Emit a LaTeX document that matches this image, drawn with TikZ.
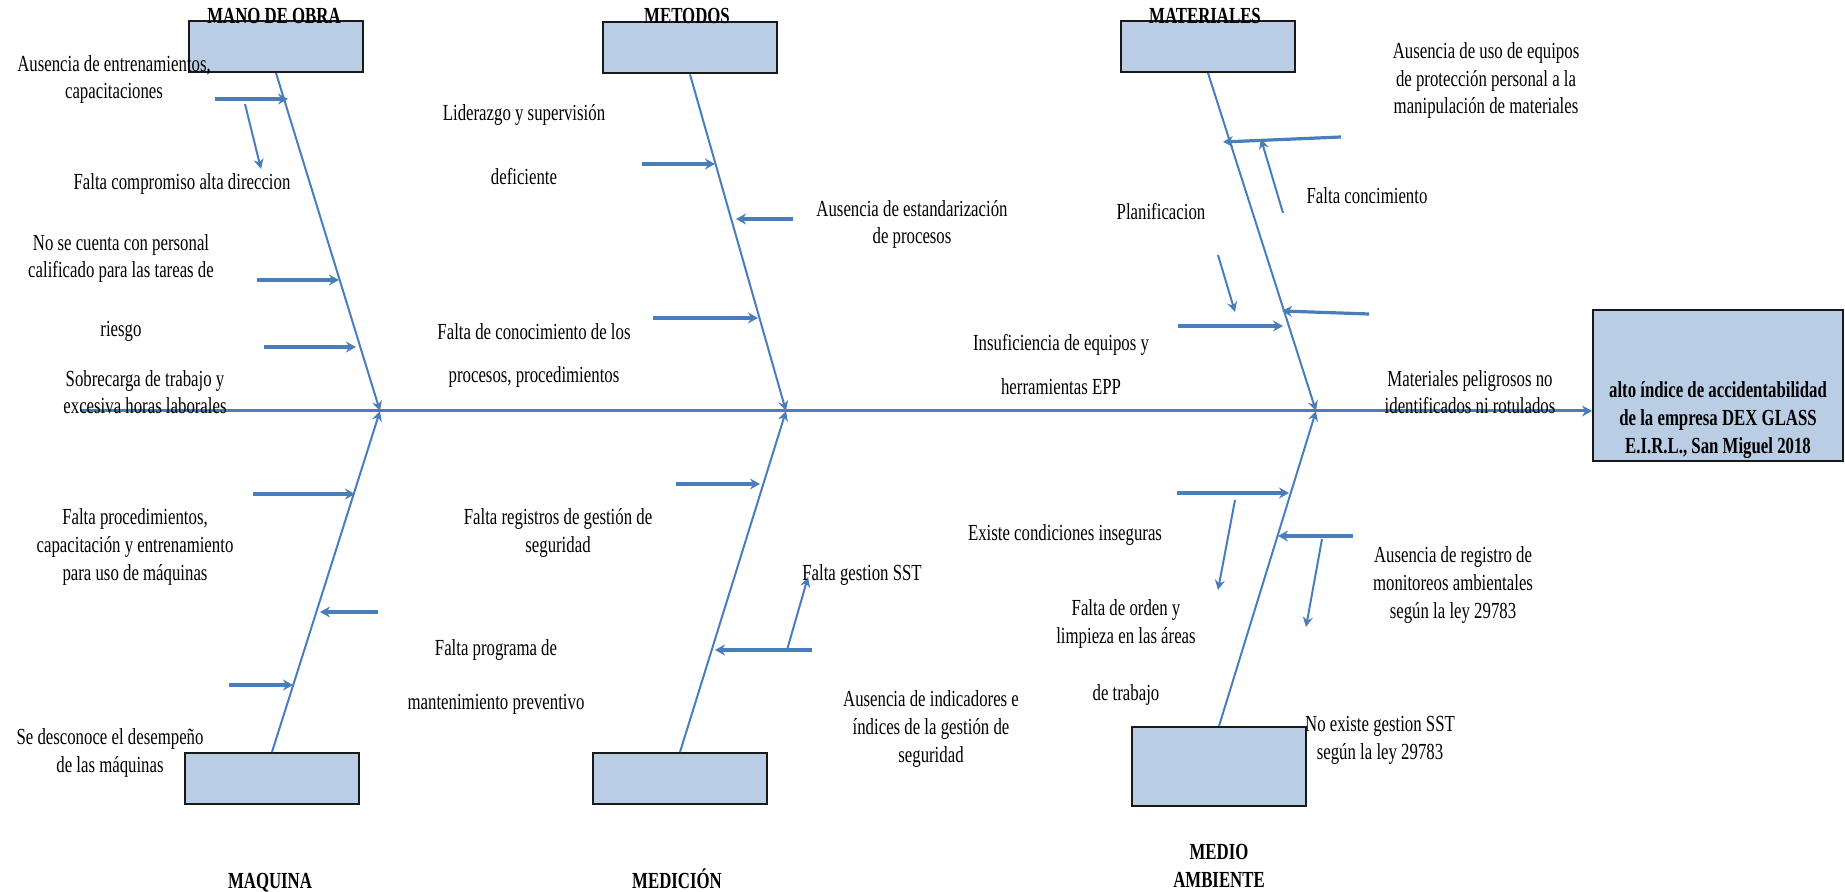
\documentclass[tikz,border=0pt]{standalone}
\usepackage{fontspec}
\setmainfont{Liberation Serif}[FakeStretch=0.73]
\usepackage{tikz}
\usetikzlibrary{arrows.meta}

\definecolor{espina}{HTML}{4A7EBB}
\definecolor{caja}{HTML}{B9CDE5}

\begin{document}
\begin{tikzpicture}[x=0.5pt, y=-0.5pt,
    every node/.style={font=\fontsize{11.5}{13.8}\selectfont, align=center, inner sep=0pt},
    catbox/.style={draw=black!90, fill=caja, line width=1pt, minimum width=87pt, minimum height=25.5pt},
    titulo/.style={anchor=base, font=\fontsize{11.5}{13.8}\selectfont\bfseries},
    texto/.style={anchor=base},
    hueso/.style={espina, line width=1pt, -{Stealth[length=5pt,width=5pt]}},
    espinazo/.style={espina, line width=1.5pt, -{Stealth[length=5pt,width=5.5pt]}},
    causa/.style={espina, line width=1.6pt, -{Stealth[length=5pt,width=5.5pt]}},
    sub/.style={espina, line width=1pt, -{Stealth[length=5pt,width=5pt]}}]

        \useasboundingbox (0,0) rectangle (1845,892);

        % cajas de categorias
        \node[catbox] (mano) at (276,46.5) {};
        \node[catbox] (metodos) at (690,48) {};
        \node[catbox] (materiales) at (1208,46.5) {};
        \node[catbox] (maquina) at (272,778.5) {};
        \node[catbox] (medicion) at (680,778.5) {};
        \node[catbox, minimum height=39.5pt] (medio) at (1219,766.5) {};
        \node[catbox, minimum width=125pt, minimum height=75.5pt] (efecto) at (1718,385.5) {};

        % (base = ultima linea del texto)
        \node[titulo] (tmano) at (274,24) {MANO DE OBRA};
        \node[titulo] (tmetodos) at (687,24) {METODOS};
        \node[titulo] (tmateriales) at (1205,24) {MATERIALES};
        \node[titulo] (tmaquina) at (270,888) {MAQUINA};
        \node[titulo] (tmedicion) at (677,888) {MEDICIÓN};
        \node[titulo] (tmedio) at (1219,887) {MEDIO\\AMBIENTE};
        \node[titulo] (tefecto) at (1718,453) {alto índice de accidentabilidad\\de la empresa DEX GLASS\\E.I.R.L., San Miguel 2018};

        % espina central
        \coordinate (cola) at (80,411);
        \coordinate (p1) at (380,411);
        \coordinate (p2) at (786,411);
        \coordinate (p3) at (1316,411);
        \draw[espinazo] (cola) -- (cola -| efecto.west);

        \draw[hueso] (mano.south) -- (p1);
        \draw[hueso] (metodos.south) -- (p2);
        \draw[hueso] (materiales.south) -- (p3);
        \draw[hueso] (maquina.north) -- (p1);
        \draw[hueso] (medicion.north) -- (p2);
        \draw[hueso] (medio.north) -- (p3);

        % mano de obra
        \draw[causa] (215,99) -- (288,99);
        \draw[sub] (245,104) -- (261,169);
        \draw[causa] (257,280) -- (339,280);
        \draw[causa] (264,347) -- (356,347);
        \node[texto] (c1) at (114,99) {Ausencia de entrenamientos,\\capacitaciones};
        \node[texto] (c2) at (182,190) {Falta compromiso alta direccion};
        \node[texto] (c3) at (121,337) {No se cuenta con personal\\calificado para las tareas de\\[15.7pt]riesgo};
        \node[texto] (c4) at (145,414) {Sobrecarga de trabajo y\\excesiva horas laborales};

        % metodos
        \draw[causa] (642,164) -- (715,164);
        \draw[causa] (793,219) -- (736,219);
        \draw[causa] (653,318) -- (758,318);
        \node[texto] (c5) at (524,185) {Liderazgo y supervisión\\[18.2pt]deficiente};
        \node[texto] (c6) at (534,383) {Falta de conocimiento de los\\[7.7pt]procesos, procedimientos};
        \node[texto] (c7) at (912,244) {Ausencia de estandarización\\de procesos};

        % materiales
        \draw[causa] (1341,137) -- (1223,142);
        \draw[sub] (1283,213) -- (1261,139);
        \draw[sub] (1218,255) -- (1235,312);
        \draw[causa] (1369,314) -- (1282,311);
        \draw[causa] (1178,326) -- (1283,326);
        \node[texto] (c8) at (1161,220) {Planificacion};
        \node[texto] (c9) at (1061,395) {Insuficiencia de equipos y\\[8.2pt]herramientas EPP};
        \node[texto] (c10) at (1486,114) {Ausencia de uso de equipos\\de protección personal a la\\manipulación de materiales};
        \node[texto] (c11) at (1367,204) {Falta concimiento};
        \node[texto] (c12) at (1470,414) {Materiales peligrosos no\\identificados ni rotulados};

        % maquina
        \draw[causa] (253,494) -- (355,494);
        \draw[causa] (378,612) -- (320,612);
        \draw[causa] (229,685) -- (293,685);
        \node[texto] (c13) at (135,580) {Falta procedimientos,\\capacitación y entrenamiento\\para uso de máquinas};
        \node[texto] (c14) at (496,709) {Falta programa de\\[13.2pt]mantenimiento preventivo};
        \node[texto] (c15) at (110,772) {Se desconoce el desempeño\\de las máquinas};

        % medicion
        \draw[causa] (676,484) -- (760,484);
        \draw[causa] (812,650) -- (715,650);
        \draw[sub] (787,650) -- (808,577);
        \node[texto] (c16) at (558,552) {Falta registros de gestión de\\seguridad};
        \node[texto] (c17) at (862,580) {Falta gestion SST};
        \node[texto] (c18) at (931,762) {Ausencia de indicadores e\\índices de la gestión de\\seguridad};

        % medio ambiente
        \draw[causa] (1177,493) -- (1289,493);
        \draw[sub] (1235,500) -- (1218,590);
        \draw[causa] (1353,536) -- (1278,536);
        \draw[sub] (1322,539) -- (1306,627);
        \node[texto] (c19) at (1065,540) {Existe condiciones inseguras};
        \node[texto] (c20) at (1126,700) {Falta de orden y\\limpieza en las áreas\\[14.7pt]de trabajo};
        \node[texto] (c21) at (1453,618) {Ausencia de registro de\\monitoreos ambientales\\según la ley 29783};
        \node[texto] (c22) at (1380,759) {No existe gestion SST\\según la ley 29783};

\end{tikzpicture}
\end{document}
